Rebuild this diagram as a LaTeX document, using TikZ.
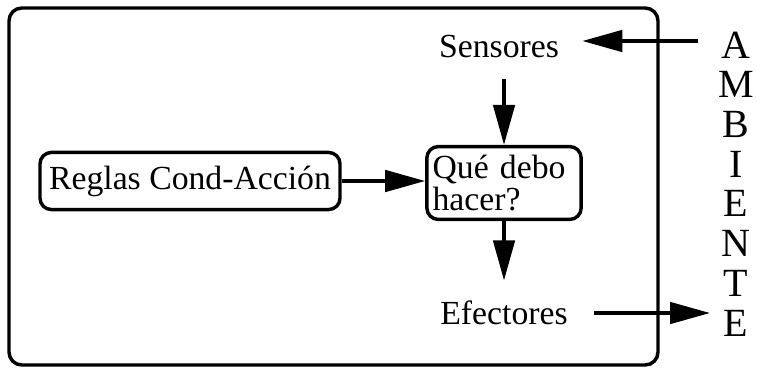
\documentclass[tikz,border=0pt]{standalone}
\usepackage{fontspec}
\setmainfont{Liberation Serif}
\usetikzlibrary{arrows.meta}

\begin{document}
\begin{tikzpicture}[x=0.35pt,y=-0.35pt,draw/.append style={line width=1.2pt,black},
    flecha/.style={draw,-{Triangle[length=14pt,width=7.5pt]}},
    caja/.style={draw,rounded corners=4pt,inner sep=2pt},
    every node/.style={font=\fontsize{11.8}{9.6}\selectfont}]
    \useasboundingbox (0,0) rectangle (757,369);
    % el agente
    \draw[rounded corners=4.5pt] (9,8) rectangle (658,365);
    \node[inner xsep=8pt,inner ysep=7pt] (sens) at (499,47) {Sensores};
    \node[caja,text width=50pt,align=left,minimum height=25.5pt] (que) at (504,183)
        {Qué debo\\hacer?};
    \node[caja,minimum width=105pt,minimum height=20pt] (reglas) at (190,181)
        {Reglas Cond-Acción};
    \node[inner xsep=9pt,inner ysep=7pt] (efec) at (504,313) {Efectores};
    % el ambiente
    \foreach \l [count=\i from 0] in {A,M,B,I,E,N,T,E}
        \node[font=\fontsize{14}{14}\selectfont] (amb\i) at (736,45+39.7*\i) {\l};
    \coordinate (entra) at (698,41);
    \coordinate (sale) at (710,313);
    \draw[flecha] (entra) -- (entra -| sens.east);
    \draw[flecha] (sens.south -| que.north) -- (que.north);
    \draw[flecha] (reglas) -- (que.west |- reglas);
    \draw[flecha] (que.south) -- (efec.north -| que.south);
    \draw[flecha] (efec.east) -- (sale);
\end{tikzpicture}
\end{document}
